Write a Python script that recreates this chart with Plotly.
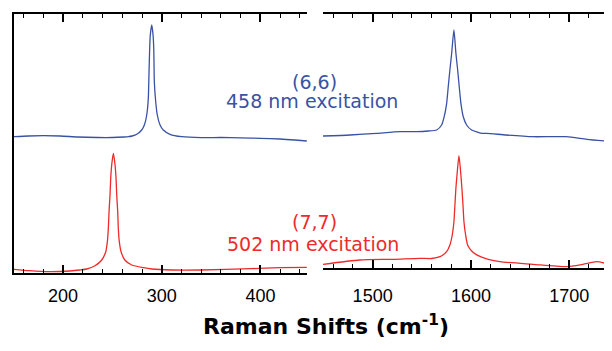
import plotly.graph_objects as go

# ---------------- data ----------------
# low-frequency window (RBM region), cm^-1 and intensity (a.u.)
rbm_x_blue = [150, 165, 180, 197, 215, 235, 250, 262, 266.2, 270, 274.7, 279.7, 282.4, 284.8,
              286.4, 287.1, 287.8, 288.4, 289.9, 291.2, 291.9, 292.2, 292.5, 293.9, 295.5, 298.3,
              301.6, 308.4, 320.3, 340, 360, 380, 400, 420, 435, 447]
rbm_y_blue = [136.3, 137, 137.3, 137, 136, 135.5, 135.5, 136, 136.3, 137, 138.7, 143, 148, 158,
              174.7, 200, 224.7, 238, 248, 238, 224.7, 208, 191.3, 171.3, 158, 148,
              143, 138.7, 136.3, 135.3, 135.5, 135.2, 134.7, 134, 133, 132]

rbm_x_red = [150, 166, 186, 207, 217, 224, 232.4, 239.2, 243.3, 244.9, 245.9, 246.6, 247.6, 248.3,
             249.3, 251.0, 252.7, 253.7, 254.4, 255.4, 256.0, 257.0, 258.8, 262.6, 269.6, 281.4,
             290, 310, 340, 390, 420, 447]
rbm_y_red = [3.7, 2.3, 1.3, 2, 3, 4, 7.3, 13, 21.3, 31.3, 44.7, 61.3, 78, 94.7,
             108, 119.7, 108, 94.7, 78, 61.3, 44.7, 31.3, 21.3, 13, 8, 5.3,
             4, 3, 3, 4.3, 5.3, 5.7]

# high-frequency window (G band)
g_x_blue = [1449.5, 1477, 1504, 1528, 1545, 1556.6, 1565.1, 1570.2, 1572.8, 1575.3, 1576.9, 1578.6,
            1580.4, 1582.7, 1584.7, 1586.5, 1588.1, 1589.8, 1592.2, 1595.6, 1600.7, 1610.9, 1616,
            1636, 1663, 1697, 1718, 1743.5]
g_y_blue = [137, 138, 139.7, 141.3, 141.3, 142, 143, 148, 156.3, 169.7, 186.3, 203,
            219.7, 243, 219.7, 203, 186.3, 169.7, 156.3, 148, 143, 139.7, 139.7,
            138, 136.3, 136.3, 133.7, 131.3]

g_x_red = [1449.5, 1487, 1521, 1548, 1560, 1568.5, 1575.3, 1578.6, 1581.0, 1582.7, 1583.7, 1584.7,
           1586.1, 1587.8, 1589.5, 1590.8, 1591.9, 1592.9, 1594.6, 1596.6, 1600.7, 1607.4, 1617.6,
           1629.5, 1663, 1697, 1714, 1728, 1743.5]
g_y_red = [8.7, 13, 13.7, 14.7, 14.5, 16.3, 21.3, 28, 38, 51.3, 68, 84.7,
           101.3, 117.3, 101.3, 84.7, 68, 51.3, 38, 28, 22, 17.3, 13.7,
           11.3, 8.7, 6.3, 8.7, 11.3, 8]

left_tick_vals = [200, 300, 400]
right_tick_vals = [1500, 1600, 1700]
x_title = "Raman Shifts (cm<sup>-1</sup>)"
label_blue = ["(6,6)", "458 nm excitation"]
label_red = ["(7,7)", "502 nm excitation"]

BLUE = "#3a52a4"
RED = "#ee2a2a"
# the page body has an 8px margin: the figure is drawn at (8, 8) in the window
OFF = 8
W, H = 612 - OFF, 351 - OFF

def px_x(p):
    return (p - OFF) / W

def px_y(p):
    return 1 - (p - OFF) / H

line_kw = dict(width=1.3, shape="spline", smoothing=0.6)
fig = go.Figure()
fig.add_trace(go.Scatter(x=rbm_x_blue, y=rbm_y_blue, mode="lines", line=dict(color=BLUE, **line_kw),
                         xaxis="x", yaxis="y"))
fig.add_trace(go.Scatter(x=rbm_x_red, y=rbm_y_red, mode="lines", line=dict(color=RED, **line_kw),
                         xaxis="x", yaxis="y"))
fig.add_trace(go.Scatter(x=g_x_blue, y=g_y_blue, mode="lines", line=dict(color=BLUE, **line_kw),
                         xaxis="x2", yaxis="y2"))
fig.add_trace(go.Scatter(x=g_x_red, y=g_y_red, mode="lines", line=dict(color=RED, **line_kw),
                         xaxis="x2", yaxis="y2"))

tickfont = dict(family="Liberation Sans, Arial, sans-serif", size=18, color="black")
common_x = dict(showline=True, linecolor="black", linewidth=1.5, mirror="ticks", ticks="inside",
                ticklen=8, tickwidth=1.5, tickcolor="black", showgrid=False, zeroline=False,
                tickfont=tickfont, automargin=False,
                minor=dict(ticks="inside", ticklen=4, tickwidth=1.2, tickcolor="black", dtick=20,
                           showgrid=False))

fig.update_layout(
    width=W, height=H,
    margin=dict(l=0, r=0, t=0, b=0, pad=0, autoexpand=False),
    paper_bgcolor="white", plot_bgcolor="white",
    showlegend=False,
    xaxis=dict(domain=[px_x(14), px_x(307)], range=[150.3, 447.2], tickvals=left_tick_vals,
               anchor="y", ticklabelstandoff=6, **common_x),
    xaxis2=dict(domain=[px_x(323), 1.0], range=[1449.5, 1743.5], tickvals=right_tick_vals,
                anchor="y2", ticklabelstandoff=11, **common_x),
    yaxis=dict(domain=[px_y(273), px_y(14)], range=[0, 259], showline=True, linecolor="black",
               linewidth=1.5, ticks="", showticklabels=False, showgrid=False, zeroline=False,
               anchor="x", automargin=False),
    yaxis2=dict(domain=[px_y(267.7), px_y(14)], range=[5.3, 259], showline=False, ticks="",
                showticklabels=False, showgrid=False, zeroline=False, anchor="x2", automargin=False),
)

annot_font = "DejaVu Sans, sans-serif"
anns = [
    (label_blue[0], 314, 82, BLUE),
    (label_blue[1], 312, 101, BLUE),
    (label_red[0], 314, 222, RED),
    (label_red[1], 313, 244, RED),
]
for txt, x, y, c in anns:
    fig.add_annotation(text=txt, x=px_x(x), y=px_y(y), xref="paper", yref="paper",
                       xanchor="center", yanchor="middle", showarrow=False,
                       font=dict(family=annot_font, size=19, color=c))

fig.add_annotation(text="<b>" + x_title + "</b>", x=px_x(326), y=px_y(325), xref="paper", yref="paper",
                   xanchor="center", yanchor="middle", showarrow=False,
                   font=dict(family="DejaVu Sans, sans-serif", size=22, color="black"))

fig.write_html("out.html")
